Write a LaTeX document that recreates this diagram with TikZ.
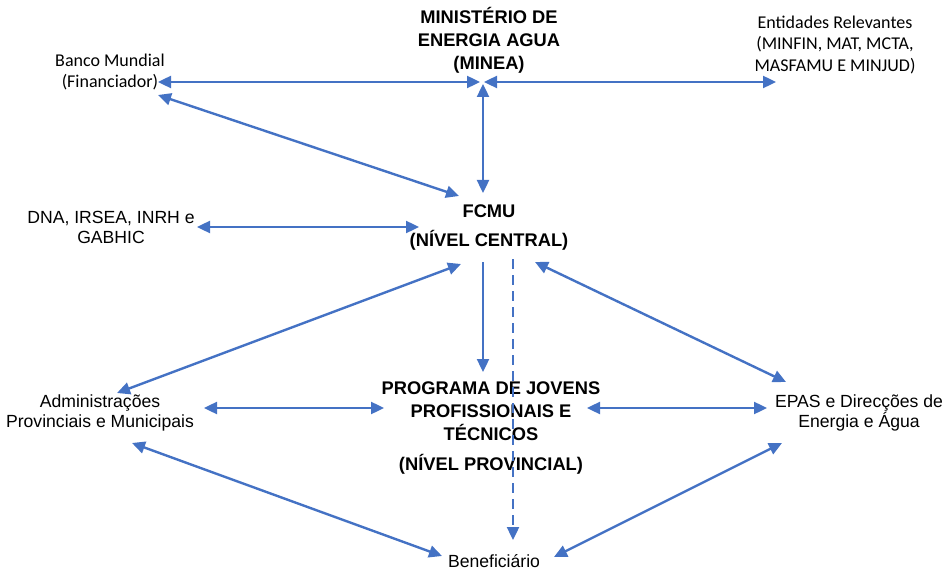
\documentclass[tikz,border=0pt]{standalone}
\usepackage{fontspec}
\setmainfont{Liberation Sans}
\newfontfamily\calf{Carlito}
\usetikzlibrary{arrows.meta}
\definecolor{arr}{HTML}{4472C4}
\begin{document}
\begin{tikzpicture}[x=1pt,y=-1pt,
  lab/.style={align=center,inner sep=0pt,font=\fontsize{17.6}{20}\selectfont},
  blab/.style={align=center,inner sep=0pt,font=\bfseries\fontsize{18.3}{23}\selectfont},
  clab/.style={align=center,inner sep=0pt,font=\calf\fontsize{18}{21.5}\selectfont},
  both/.style={arr,line width=2.4pt,{Triangle[length=13pt,width=12pt]}-{Triangle[length=13pt,width=12pt]}},
  one/.style={arr,line width=2.4pt,-{Triangle[length=13pt,width=12pt]}},
  dsh/.style={arr,line width=2.4pt,dash pattern=on 10pt off 6pt,-{Triangle[length=13pt,width=12pt]}}]
\useasboundingbox (0,0) rectangle (946,575);
% nodes
\node[blab] (minea) at (489,40) {MINISTÉRIO DE\\ENERGIA AGUA\\(MINEA)};
\node[blab] (fcmu) at (489,228) {FCMU\\[6pt](NÍVEL CENTRAL)};
\node[blab] (prog) at (491,428) {PROGRAMA DE JOVENS\\PROFISSIONAIS E\\TÉCNICOS\\[7pt](NÍVEL PROVINCIAL)};
\node[clab] (banco) at (110,72) {Banco Mundial\\(Financiador)};
\node[clab] (ent) at (835,45) {Entidades Relevantes\\(MINFIN, MAT, MCTA,\\MASFAMU E MINJUD)};
\node[lab] (dna) at (111,227) {DNA, IRSEA, INRH e\\GABHIC};
\node[lab] (admin) at (100,413) {Administrações\\Provinciais e Municipais};
\node[lab] (epas) at (859,413) {EPAS e Direcções de\\Energia e Água};
\node[lab] (benef) at (494,561) {Beneficiário};
% connector end points
\coordinate (mL) at (480,82);
\coordinate (mR) at (484,82);
\coordinate (mB) at (483,84);
\coordinate (bR) at (158,82);
\coordinate (bD) at (158,95);
\coordinate (eL) at (776,82);
\coordinate (fT) at (483,193);
\coordinate (fTL) at (459,196);
\coordinate (fL) at (419,227);
\coordinate (dR) at (197,227);
\coordinate (fB) at (483,262);
\coordinate (fD) at (513,259);
\coordinate (fBL) at (461,264);
\coordinate (fBR) at (535,262);
\coordinate (pT) at (483,372);
\coordinate (pL) at (384,408);
\coordinate (pR) at (587,408);
\coordinate (aR) at (204,408);
\coordinate (aT) at (117,393);
\coordinate (aB) at (132,443);
\coordinate (epL) at (767,408);
\coordinate (epT) at (786,382);
\coordinate (epB) at (782,443);
\coordinate (beT) at (513,540);
\coordinate (beL) at (442,556);
\coordinate (beR) at (554,557);
% connectors
\draw[both] (bR) -- (mL);
\draw[both] (mR) -- (eL);
\draw[both] (mB) -- (fT);
\draw[both] (bD) -- (fTL);
\draw[both] (dR) -- (fL);
\draw[one] (fB) -- (pT);
\draw[dsh] (fD) -- (beT);
\draw[both] (fBL) -- (aT);
\draw[both] (fBR) -- (epT);
\draw[both] (aR) -- (pL);
\draw[both] (pR) -- (epL);
\draw[both] (aB) -- (beL);
\draw[both] (epB) -- (beR);
\end{tikzpicture}
\end{document}
